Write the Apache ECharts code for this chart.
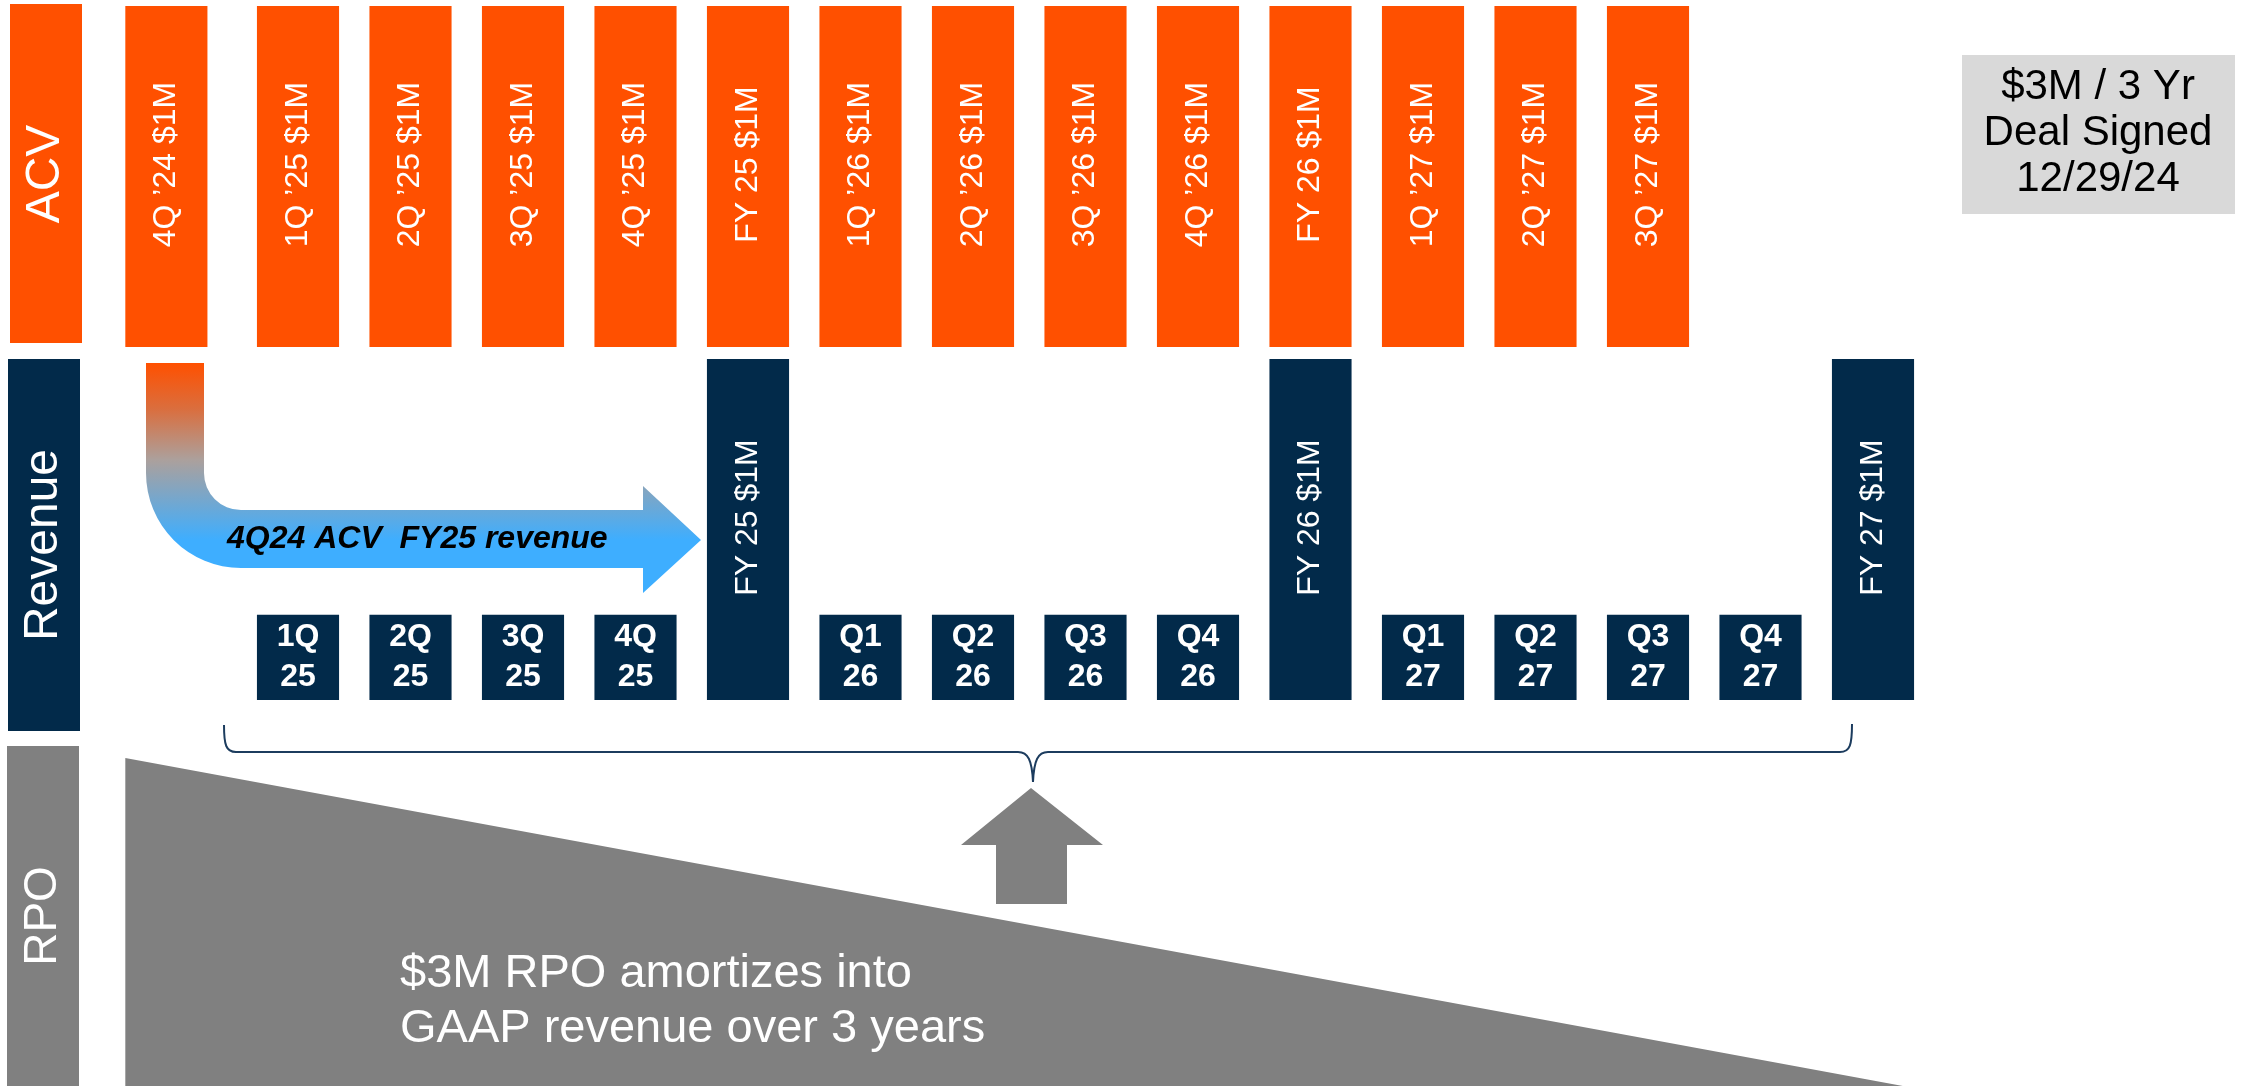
<!DOCTYPE html>
<html>
<head>
<meta charset="utf-8">
<script src="https://cdn.jsdelivr.net/npm/echarts@6/dist/echarts.min.js"></script>
<style>
  html, body { margin: 0; padding: 0; background: #ffffff; }
  #chart { width: 2241px; height: 1086px; }
</style>
</head>
<body>
<div id="chart"></div>
<script>
// ---- Deal timeline: amounts in $M ----
const acvPeriods = ["4Q ’24", "1Q ’25", "2Q ’25", "3Q ’25", "4Q ’25", "FY 25", "1Q ’26", "2Q ’26",
                    "3Q ’26", "4Q ’26", "FY 26", "1Q ’27", "2Q ’27", "3Q ’27"];
const acvValues = [1, 1, 1, 1, 1, 1, 1, 1, 1, 1, 1, 1, 1, 1];

const revenuePeriods = ["1Q 25", "2Q 25", "3Q 25", "4Q 25", "FY 25", "Q1 26", "Q2 26", "Q3 26", "Q4 26",
                        "FY 26", "Q1 27", "Q2 27", "Q3 27", "Q4 27", "FY 27"];
const revenueValues = [0.25, 0.25, 0.25, 0.25, 1, 0.25, 0.25, 0.25, 0.25, 1, 0.25, 0.25, 0.25, 0.25, 1];

// RPO balance at signing and at the end of the 3-year term
const rpoValues = [3, 0];

// ---- layout ----
const W = 2241, H = 1086;
const SLOT0 = 298, SLOT = 112.5;          // first revenue column centre, column pitch (px)
const SIGN_SLOT = -1.17;                   // signing-quarter column sits a little left of the grid
const BAR_RATIO = 0.73;
const FONT = '"Liberation Sans", Arial, Helvetica, sans-serif';
const ORANGE = '#FF5000', NAVY = '#022A4A', GREY = '#808080';

const xMin = -SLOT0 / SLOT, xMax = (W - SLOT0) / SLOT;

const acvData = acvValues.map((v, i) => [i === 0 ? SIGN_SLOT : i - 1, v, `${acvPeriods[i]} $${v}M`]);
const revData = revenueValues.map((v, i) => [i, v, v >= 1 ? `${revenuePeriods[i]} $${v}M` : revenuePeriods[i].replace(' ', '\n')]);
const rpoData = [[SIGN_SLOT - BAR_RATIO / 2, rpoValues[0]], [14 + BAR_RATIO / 2 - 0.1, rpoValues[1]]];

function barRenderer(color) {
  return function (params, api) {
    const x = api.value(0), v = api.value(1), label = api.value(2);
    const top = api.coord([x, v]);
    const base = api.coord([x, 0]);
    const w = api.size([1, 0])[0] * BAR_RATIO;
    const h = base[1] - top[1];
    const children = [{
      type: 'rect',
      shape: { x: top[0] - w / 2, y: top[1], width: w, height: h },
      style: { fill: color }
    }];
    if (v >= 1) {
      children.push({
        type: 'text', x: top[0], y: top[1] + h / 2 - 12, rotation: Math.PI / 2,
        style: { text: label, fill: '#ffffff', font: '32px ' + FONT, align: 'center', verticalAlign: 'middle' }
      });
    } else {
      children.push({
        type: 'text', x: top[0], y: top[1] + h / 2,
        style: { text: label, fill: '#ffffff', font: 'bold 32px ' + FONT, lineHeight: 40,
                 align: 'center', verticalAlign: 'middle' }
      });
    }
    return { type: 'group', children };
  };
}

// flow arrow, brace and up-arrow annotations (pixel space)
function decorRenderer() {
  return {
    type: 'group',
    children: [
      { type: 'path',
        shape: { pathData: 'M146 363 L204 363 L204 473 A37 37 0 0 0 241 510 L643 510 L643 486 L701 540 L643 593 L643 568 L241 568 A95 95 0 0 1 146 473 Z' },
        style: { fill: { type: 'linear', x: 0, y: 0, x2: 0, y2: 1,
          colorStops: [{ offset: 0, color: '#FF5000' }, { offset: 0.2, color: '#DA6E3E' },
                       { offset: 0.42, color: '#ACA09C' }, { offset: 0.77, color: '#3EAEFF' },
                       { offset: 1, color: '#3EAEFF' }] } } },
      { type: 'text', x: 227, y: 539,
        style: { text: '4Q24 ACV  FY25 revenue', fill: '#000', font: 'italic bold 32px ' + FONT,
                 align: 'left', verticalAlign: 'middle' } },
      { type: 'path',
        shape: { pathData: 'M224 725 C224 745 226 752 236 752 L1018 752 C1028 752 1032 760 1033 782 C1034 760 1038 752 1048 752 L1840 752 C1850 752 1852 745 1852 724' },
        style: { fill: 'none', stroke: '#1C3C5E', lineWidth: 2 } },
      { type: 'polygon',
        shape: { points: [[1031, 788], [1103, 845], [1067, 845], [1067, 904], [996, 904], [996, 845], [961, 845]] },
        style: { fill: GREY } }
    ]
  };
}

const chart = echarts.init(document.getElementById('chart'), null, { renderer: 'canvas' });

const option = {
  backgroundColor: '#ffffff',
  animation: false,
  grid: [
    { left: 0, width: W, top: 6, height: 341 },     // ACV
    { left: 0, width: W, top: 359, height: 341 },   // Revenue
    { left: 0, width: W, top: 758, height: 328 }    // RPO
  ],
  xAxis: [0, 1, 2].map(g => ({ type: 'value', gridIndex: g, min: xMin, max: xMax, show: false })),
  yAxis: [
    { type: 'value', gridIndex: 0, min: 0, max: 1, show: false },
    { type: 'value', gridIndex: 1, min: 0, max: 1, show: false },
    { type: 'value', gridIndex: 2, min: 0, max: 3, show: false }
  ],
  series: [
    { type: 'custom', name: 'ACV', xAxisIndex: 0, yAxisIndex: 0, data: acvData,
      encode: { x: 0, y: 1 }, renderItem: barRenderer(ORANGE), clip: false },
    { type: 'custom', name: 'Revenue', xAxisIndex: 1, yAxisIndex: 1, data: revData,
      encode: { x: 0, y: 1 }, renderItem: barRenderer(NAVY), clip: false },
    { type: 'line', name: 'RPO', xAxisIndex: 2, yAxisIndex: 2, data: rpoData,
      symbol: 'none', lineStyle: { width: 0 }, areaStyle: { color: GREY, opacity: 1 }, silent: true },
    { type: 'custom', name: 'annotations', coordinateSystem: 'none', data: [0],
      renderItem: decorRenderer, silent: true }
  ],
  graphic: [
    // row headers
    { type: 'rect', shape: { x: 10, y: 4, width: 72, height: 339 }, style: { fill: ORANGE } },
    { type: 'text', x: 46, y: 174, rotation: Math.PI / 2,
      style: { text: 'ACV', fill: '#fff', font: '48px ' + FONT, align: 'center', verticalAlign: 'middle' } },
    { type: 'rect', shape: { x: 8, y: 359, width: 72, height: 372 }, style: { fill: NAVY } },
    { type: 'text', x: 44, y: 545, rotation: Math.PI / 2,
      style: { text: 'Revenue', fill: '#fff', font: '48px ' + FONT, align: 'center', verticalAlign: 'middle' } },
    { type: 'rect', shape: { x: 7, y: 746, width: 72, height: 345 }, style: { fill: GREY } },
    { type: 'text', x: 43, y: 916, rotation: Math.PI / 2,
      style: { text: 'RPO', fill: '#fff', font: '46px ' + FONT, align: 'center', verticalAlign: 'middle' } },

    // deal box
    { type: 'rect', shape: { x: 1962, y: 55, width: 273, height: 159 }, style: { fill: '#D9D9D9' } },
    { type: 'text', x: 2098, y: 133,
      style: { text: '$3M / 3 Yr\nDeal Signed\n12/29/24', fill: '#000', font: '42px ' + FONT,
               lineHeight: 46, align: 'center', verticalAlign: 'middle' } },

    // RPO caption
    { type: 'text', x: 400, y: 1002, z: 100,
      style: { text: '$3M RPO amortizes into\nGAAP revenue over 3 years', fill: '#fff', font: '47px ' + FONT,
               lineHeight: 55, align: 'left', verticalAlign: 'middle' } }
  ]
};

chart.setOption(option);
</script>
</body>
</html>
